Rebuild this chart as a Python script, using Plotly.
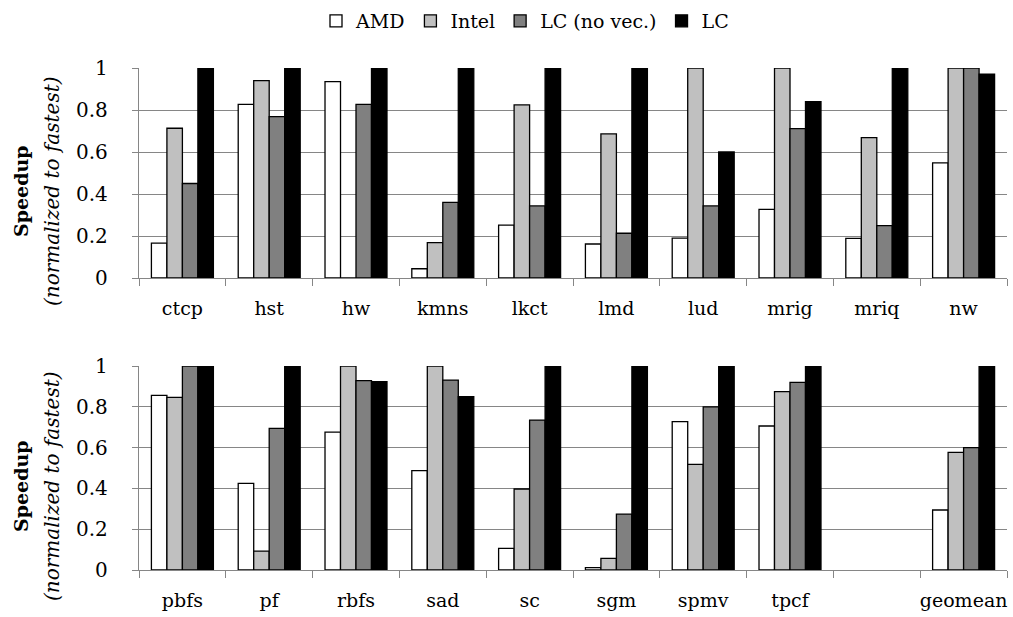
import plotly.graph_objects as go

W, H = 1013, 617

top_cats = ["ctcp", "hst", "hw", "kmns", "lkct", "lmd", "lud", "mrig", "mriq", "nw"]
top_amd = [0.166, 0.827, 0.935, 0.044, 0.252, 0.162, 0.19, 0.327, 0.189, 0.548]
top_intel = [0.713, 0.94, 0.0, 0.168, 0.824, 0.686, 1.0, 1.0, 0.668, 1.0]
top_lcnv = [0.45, 0.768, 0.827, 0.36, 0.343, 0.213, 0.343, 0.711, 0.249, 1.0]
top_lc = [1.0, 1.0, 1.0, 1.0, 1.0, 1.0, 0.60, 0.84, 1.0, 0.971]

bot_cats = ["pbfs", "pf", "rbfs", "sad", "sc", "sgm", "spmv", "tpcf", " ", "geomean"]
bot_amd = [0.856, 0.425, 0.676, 0.487, 0.106, 0.012, 0.727, 0.706, None, 0.294]
bot_intel = [0.846, 0.093, 1.0, 1.0, 0.397, 0.057, 0.518, 0.874, None, 0.577]
bot_lcnv = [1.0, 0.694, 0.928, 0.931, 0.735, 0.274, 0.80, 0.92, None, 0.60]
bot_lc = [1.0, 1.0, 0.923, 0.85, 1.0, 1.0, 1.0, 1.0, None, 1.0]

series_names = ["AMD", "Intel", "LC (no vec.)", "LC"]
series_colors = ["#FFFFFF", "#C0C0C0", "#808080", "#000000"]

FONT = "DejaVu Serif"
GRID = "#868686"

fig = go.Figure()
top_vals = [top_amd, top_intel, top_lcnv, top_lc]
bot_vals = [bot_amd, bot_intel, bot_lcnv, bot_lc]
for i, name in enumerate(series_names):
    fig.add_trace(go.Bar(x=top_cats, y=top_vals[i], name=name, marker_color=series_colors[i],
                         marker_line_color="#000000", marker_line_width=1.3,
                         xaxis="x", yaxis="y", legendgroup=name, showlegend=True))
for i, name in enumerate(series_names):
    fig.add_trace(go.Bar(x=bot_cats, y=bot_vals[i], name=name, marker_color=series_colors[i],
                         marker_line_color="#000000", marker_line_width=1.3,
                         xaxis="x2", yaxis="y2", legendgroup=name, showlegend=False))

xd = [139 / W, 1007 / W]
yd_top = [1 - 278 / H, 1 - 68 / H]
yd_bot = [1 - 570 / H, 1 - 366 / H]

xaxis_common = dict(domain=xd, type="category", showline=True, linecolor=GRID, linewidth=1.3,
                    ticks="outside", tickson="boundaries", ticklen=7, tickcolor=GRID, tickwidth=1.3,
                    showgrid=False, tickfont=dict(family=FONT, size=19, color="black"),
                    ticklabelstandoff=13, tickangle=0, automargin=False)
yaxis_common = dict(range=[0, 1], dtick=0.2, showline=True, linecolor=GRID, linewidth=1.3,
                    ticks="outside", ticklen=6, tickcolor=GRID, tickwidth=1.3,
                    showgrid=True, gridcolor=GRID, gridwidth=1.3, zeroline=False,
                    tickfont=dict(family=FONT, size=20, color="black"), ticklabelstandoff=20,
                    automargin=False)

fig.update_layout(
    width=W, height=H,
    margin=dict(l=0, r=0, t=0, b=0, autoexpand=False),
    paper_bgcolor="white", plot_bgcolor="white",
    barmode="group", bargap=0.286, bargroupgap=0,
    font=dict(family=FONT, size=19, color="black"),
    xaxis=dict(anchor="y", **xaxis_common),
    yaxis=dict(domain=yd_top, anchor="x", **yaxis_common),
    xaxis2=dict(anchor="y2", **xaxis_common),
    yaxis2=dict(domain=yd_bot, anchor="x2", **yaxis_common),
    legend=dict(orientation="h", x=525 / W, xanchor="center", y=1 - 2 / H, yanchor="top",
                font=dict(family=FONT, size=19, color="black"), itemwidth=30,
                traceorder="normal", bgcolor="rgba(0,0,0,0)"),
)

def ytitle(plot_center_px):
    c = plot_center_px + 18
    fig.add_annotation(x=21 / W, y=1 - c / H, xref="paper", yref="paper",
                       xanchor="center", yanchor="middle",
                       text="<b>Speedup</b>", textangle=-90, showarrow=False,
                       font=dict(family=FONT, size=19, color="black"))
    fig.add_annotation(x=52 / W, y=1 - c / H, xref="paper", yref="paper",
                       xanchor="center", yanchor="middle",
                       text="<i>(normalized to fastest)</i>", textangle=-90, showarrow=False,
                       font=dict(family=FONT, size=20, color="black"))

ytitle(173)
ytitle(468)

fig.write_html("out.html")
